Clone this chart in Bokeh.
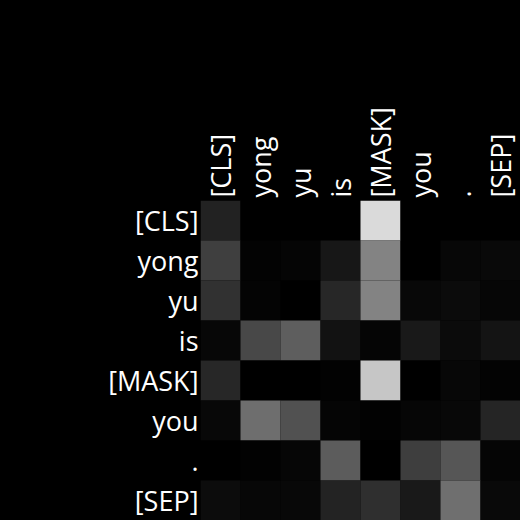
from math import pi
from bokeh.plotting import figure
from bokeh.models import ColumnDataSource, LinearColorMapper, FactorRange
from bokeh.transform import transform
from bokeh.embed import file_html
from bokeh.resources import INLINE

tokens = ["[CLS]", "yong", "yu", "is", "[MASK]", "you", ".", "[SEP]"]

# attention weights, row = query token, column = key token
row_cls  = [0.133, 0.000, 0.000, 0.000, 0.855, 0.000, 0.000, 0.000]
row_yong = [0.247, 0.012, 0.020, 0.090, 0.514, 0.000, 0.031, 0.039]
row_yu   = [0.192, 0.016, 0.000, 0.153, 0.514, 0.035, 0.043, 0.027]
row_is   = [0.031, 0.282, 0.369, 0.071, 0.020, 0.098, 0.043, 0.082]
row_mask = [0.153, 0.000, 0.000, 0.008, 0.776, 0.000, 0.031, 0.012]
row_you  = [0.035, 0.431, 0.318, 0.020, 0.008, 0.024, 0.035, 0.145]
row_dot  = [0.000, 0.008, 0.024, 0.361, 0.000, 0.243, 0.337, 0.020]
row_sep  = [0.047, 0.031, 0.035, 0.137, 0.184, 0.098, 0.435, 0.039]

rows = [row_cls, row_yong, row_yu, row_is, row_mask, row_you, row_dot, row_sep]

xs, ys, ws = [], [], []
for i, r in enumerate(rows):
    for j, w in enumerate(r):
        xs.append(tokens[j])
        ys.append(tokens[i])
        ws.append(w)

src = ColumnDataSource(dict(x=xs, y=ys, w=ws))
palette = ["#%02x%02x%02x" % (g, g, g) for g in range(256)]
mapper = LinearColorMapper(palette=palette, low=0, high=1)

p = figure(width=520, height=520, output_backend="svg", toolbar_location=None,
           x_range=FactorRange(*tokens), y_range=FactorRange(*reversed(tokens)),
           x_axis_location="above", min_border_left=200, min_border_top=200,
           min_border_right=0, min_border_bottom=0)
p.rect(x="x", y="y", width=1, height=1, source=src,
       fill_color=transform("w", mapper), line_color=None)

p.background_fill_color = "black"
p.border_fill_color = "black"
p.outline_line_color = None
p.grid.grid_line_color = None
p.styles = {"background-color": "black"}
for ax in (p.xaxis, p.yaxis):
    ax.axis_line_color = None
    ax.major_tick_line_color = None
    ax.minor_tick_line_color = None
    ax.major_label_text_color = "white"
    ax.major_label_text_font = "Open Sans"
    ax.major_label_text_font_size = "27px"
    ax.major_tick_out = 0
    ax.major_tick_in = 0
p.xaxis.major_label_orientation = pi / 2
p.xaxis.major_label_standoff = 3
p.yaxis.major_label_standoff = 2

html = file_html(p, INLINE)
html = html.replace("<head>", "<head><style>html,body{background:#000;margin:0;}</style>", 1)
open("out.html", "w").write(html)
